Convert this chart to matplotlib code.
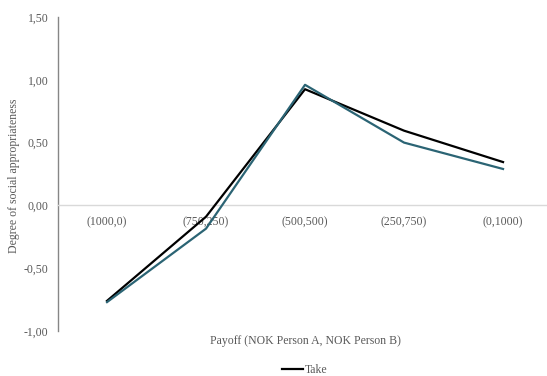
import matplotlib
matplotlib.use("Agg")
import matplotlib.pyplot as plt
import matplotlib.transforms as mtransforms

plt.rcParams['font.family'] = ['Liberation Serif', 'DejaVu Serif']

categories = ["(1000,0)", "(750,250)", "(500,500)", "(250,750)", "(0,1000)"]
take_values = [-0.76, -0.09, 0.925, 0.595, 0.345]
give_values = [-0.77, -0.185, 0.96, 0.50, 0.29]
y_ticks = [-1.0, -0.5, 0.0, 0.5, 1.0, 1.5]
y_tick_labels = ["-1,00", "-0,50", "0,00", "0,50", "1,00", "1,50"]

text_color = "#595959"

fig = plt.figure(figsize=(5.47, 3.76), dpi=100)
ax = fig.add_axes([58 / 547, 45 / 376, 1 - 58 / 547, 314 / 376])

x = list(range(len(categories)))
ax.plot(x, take_values, color="black", linewidth=1.6, label="Take", zorder=3)
ax.plot(x, give_values, color="#2B6474", linewidth=1.6, label="_nolegend_", zorder=4)

ax.set_xlim(-0.495, 4.444)
ax.set_ylim(-1.0, 1.5)

# zero line carries the category labels
ax.spines['bottom'].set_position(('data', 0))
ax.spines['bottom'].set_color("#d9d9d9")
ax.spines['bottom'].set_linewidth(1.0)
ax.spines['top'].set_visible(False)
ax.spines['right'].set_visible(False)
ax.spines['left'].set_color("#868686")
ax.spines['left'].set_linewidth(1.0)

ax.set_xticks(x)
ax.set_xticklabels(categories)
ax.set_yticks(y_ticks)
ax.set_yticklabels(y_tick_labels)
ax.tick_params(axis='x', length=0, pad=8, labelsize=8.5, labelcolor=text_color)
ax.tick_params(axis='y', length=0, pad=7, labelsize=8.5, labelcolor=text_color)

trans = mtransforms.blended_transform_factory(ax.transData, ax.transAxes)
ax.text(2, -0.032, "Payoff (NOK Person A, NOK Person B)", transform=trans,
        ha='center', va='center', fontsize=8.5, color=text_color)

fig.text(14 / 547, 1 - 176 / 376, "Degree of social appropriateness", rotation=90,
         ha='center', va='center', fontsize=8.5, color=text_color)

leg = ax.legend(loc='center', bbox_to_anchor=(305 / 547, 6 / 376),
                bbox_transform=fig.transFigure, frameon=False, fontsize=8.5,
                handlelength=1.7, handletextpad=0.2, borderpad=0)
for t in leg.get_texts():
    t.set_color(text_color)

fig.savefig("out.png", dpi=100)
